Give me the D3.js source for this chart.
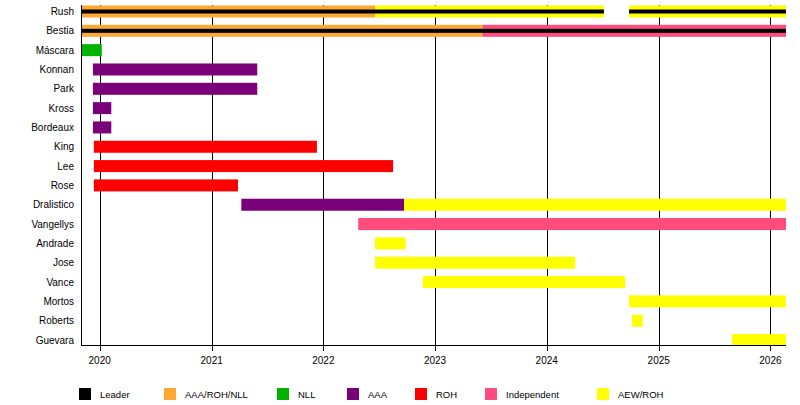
<!DOCTYPE html>
<html>
<head>
<meta charset="utf-8">
<script src="https://cdn.jsdelivr.net/npm/d3@7"></script>
<style>
  body { margin: 0; background: #fff; }
  text { font-family: "Liberation Sans", Arial, sans-serif; }
</style>
</head>
<body>
<script>
const w = 800, h = 405;

// members, top to bottom
const members = ['Rush', 'Bestia', 'Máscara', 'Konnan', 'Park', 'Kross', 'Bordeaux', 'King',
  'Lee', 'Rose', 'Dralistico', 'Vangellys', 'Andrade', 'Jose', 'Vance', 'Mortos', 'Roberts', 'Guevara'];

const groups = ['Leader', 'AAA/ROH/NLL', 'NLL', 'AAA', 'ROH', 'Independent', 'AEW/ROH'];
const groupColors = ['#000000', '#ffa733', '#00b400', '#7a007a', '#ff0000', '#ff4c7c', '#ffff00'];

const startDate = '2019-11-01', endDate = '2026-02-21';

// [member, group, from, till]
const periods = [
  ['Rush', 'AAA/ROH/NLL', '2019-11-01', '2022-06-19'],
  ['Rush', 'AEW/ROH', '2022-06-19', '2024-07-06'],
  ['Rush', 'AEW/ROH', '2024-09-26', '2026-02-21'],
  ['Bestia', 'AAA/ROH/NLL', '2019-11-01', '2023-06-05'],
  ['Bestia', 'Independent', '2023-06-05', '2026-02-21'],
  ['Máscara', 'NLL', '2019-11-01', '2020-01-08'],
  ['Konnan', 'AAA', '2019-12-10', '2021-05-30'],
  ['Park', 'AAA', '2019-12-10', '2021-05-30'],
  ['Kross', 'AAA', '2019-12-10', '2020-02-08'],
  ['Bordeaux', 'AAA', '2019-12-10', '2020-02-08'],
  ['King', 'ROH', '2019-12-13', '2021-12-11'],
  ['Lee', 'ROH', '2019-12-13', '2022-08-17'],
  ['Rose', 'ROH', '2019-12-13', '2021-03-28'],
  ['Dralistico', 'AAA', '2021-04-08', '2022-09-22'],
  ['Dralistico', 'AEW/ROH', '2022-09-22', '2026-02-21'],
  ['Vangellys', 'Independent', '2022-04-25', '2026-02-21'],
  ['Andrade', 'AEW/ROH', '2022-06-19', '2022-09-27'],
  ['Jose', 'AEW/ROH', '2022-06-19', '2024-04-03'],
  ['Vance', 'AEW/ROH', '2022-11-22', '2024-09-13'],
  ['Mortos', 'AEW/ROH', '2024-09-26', '2026-02-21'],
  ['Roberts', 'AEW/ROH', '2024-10-06', '2024-11-10'],
  ['Guevara', 'AEW/ROH', '2025-08-28', '2026-02-21']
];

// leader spells, drawn as a thin line on top
const leaders = [
  ['Rush', '2019-11-01', '2024-07-06'],
  ['Rush', '2024-09-26', '2026-02-21'],
  ['Bestia', '2019-11-01', '2026-02-21']
];

const tickYears = ['2020', '2021', '2022', '2023', '2024', '2025', '2026'];

// legend square positions (layout only)
const legendX = [79, 164, 277, 347, 415, 485, 597];

const parse = d3.timeParse('%Y-%m-%d');
const parseYear = d3.timeParse('%Y');
const color = d3.scaleOrdinal().domain(groups).range(groupColors);

const plotLeft = 81, plotRight = 786, plotTop = 5, plotBottom = 345;

const x = d3.scaleTime()
  .domain([parse(startDate), parse(endDate)])
  .range([plotLeft, plotRight]);

const y = d3.scalePoint()
  .domain(members)
  .range([11.5, 340]);

const barH = 12, leadH = 4;

const svg = d3.select('body').append('svg')
  .attr('width', w)
  .attr('height', h);

// grid lines, running a few px past the axis as ticks
svg.append('g')
  .selectAll('line')
  .data(tickYears)
  .enter()
  .append('line')
  .attr('x1', d => Math.round(x(parseYear(d))) + 0.5)
  .attr('x2', d => Math.round(x(parseYear(d))) + 0.5)
  .attr('y1', plotTop)
  .attr('y2', plotBottom + 6)
  .attr('stroke', '#000')
  .attr('stroke-width', 1);

// bars
svg.append('g')
  .selectAll('rect')
  .data(periods)
  .enter()
  .append('rect')
  .attr('x', d => x(parse(d[2])))
  .attr('width', d => x(parse(d[3])) - x(parse(d[2])))
  .attr('y', d => y(d[0]) - barH / 2)
  .attr('height', barH)
  .attr('fill', d => color(d[1]));

// leader lines
svg.append('g')
  .selectAll('rect')
  .data(leaders)
  .enter()
  .append('rect')
  .attr('x', d => x(parse(d[1])))
  .attr('width', d => x(parse(d[2])) - x(parse(d[1])))
  .attr('y', d => y(d[0]) - leadH / 2)
  .attr('height', leadH)
  .attr('fill', color('Leader'));

// axes lines
svg.append('line')
  .attr('x1', plotLeft + 0.5).attr('x2', plotLeft + 0.5)
  .attr('y1', plotTop).attr('y2', plotBottom)
  .attr('stroke', '#000');
svg.append('line')
  .attr('x1', plotLeft).attr('x2', plotRight)
  .attr('y1', plotBottom + 0.5).attr('y2', plotBottom + 0.5)
  .attr('stroke', '#000');

// member labels
svg.append('g')
  .selectAll('text')
  .data(members)
  .enter()
  .append('text')
  .text(d => d)
  .attr('x', 74)
  .attr('y', d => y(d))
  .attr('dy', '.35em')
  .attr('text-anchor', 'end')
  .attr('font-size', '10px')
  .attr('fill', '#000');

// year labels
svg.append('g')
  .selectAll('text')
  .data(tickYears)
  .enter()
  .append('text')
  .text(d => d)
  .attr('x', d => x(parseYear(d)))
  .attr('y', 360)
  .attr('dy', '.35em')
  .attr('text-anchor', 'middle')
  .attr('font-size', '10px')
  .attr('fill', '#000');

// legend
const legend = svg.append('g')
  .selectAll('g')
  .data(groups)
  .enter()
  .append('g')
  .attr('transform', (d, i) => `translate(${legendX[i]},388)`);

legend.append('rect')
  .attr('width', 12)
  .attr('height', 12)
  .attr('fill', d => color(d));

legend.append('text')
  .text(d => d)
  .attr('x', 21)
  .attr('y', 7)
  .attr('dy', '.35em')
  .attr('font-size', '9.5px')
  .attr('fill', '#000');
</script>
</body>
</html>
